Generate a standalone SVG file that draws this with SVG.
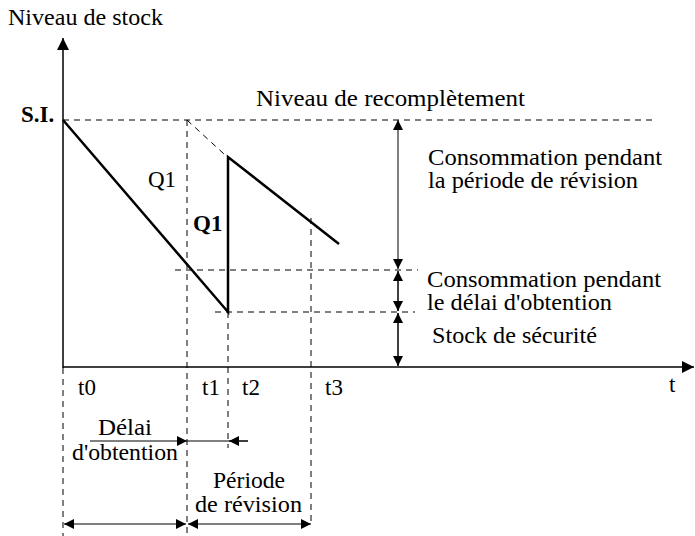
<svg xmlns="http://www.w3.org/2000/svg" width="695" height="536" viewBox="0 0 695 536">
<defs>
<style>
text{font-family:"Liberation Serif","Times New Roman",serif;font-size:23px;fill:#000}
.b{font-weight:bold}
.dash{stroke:#000;stroke-width:1;stroke-dasharray:6,5;fill:none}
.thin{stroke:#000;stroke-width:1;fill:none}
.axis{stroke:#000;stroke-width:1.5;fill:none}
.curve{stroke:#000;stroke-width:2.5;fill:none}
</style>
<marker id="ah" viewBox="0 0 10 10" refX="10" refY="5" markerWidth="12" markerHeight="10" markerUnits="userSpaceOnUse" orient="auto-start-reverse"><path d="M0,0 L10,5 L0,10 z" fill="#000"/></marker>
<marker id="big" viewBox="0 0 10 10" refX="10" refY="5" markerWidth="18" markerHeight="12" markerUnits="userSpaceOnUse" orient="auto"><path d="M0,0 L10,5 L0,10 z" fill="#000"/></marker>
</defs>
<g id="axes">
<line class="axis" x1="63" y1="368" x2="63" y2="38" marker-end="url(#big)"/>
<line class="axis" x1="63" y1="367" x2="694" y2="367" marker-end="url(#big)"/>
</g>
<g id="guides">
<line class="dash" x1="63" y1="120" x2="652" y2="120"/>
<line class="dash" x1="187" y1="120" x2="224" y2="154"/>
<line class="dash" x1="187" y1="120" x2="187" y2="536"/>
<line class="dash" x1="63" y1="368" x2="63" y2="536"/>
<line class="dash" x1="228" y1="312" x2="228" y2="448"/>
<line class="dash" x1="311" y1="218" x2="311" y2="524"/>
<line class="dash" x1="175" y1="270" x2="418" y2="270"/>
<line class="dash" x1="215" y1="312" x2="415" y2="312"/>
</g>
<g id="curve">
<polyline class="curve" points="63,120 228,312 228,157 339,244"/>
</g>
<g id="connectors">
<line class="thin" x1="398" y1="120" x2="398" y2="269" marker-start="url(#ah)" marker-end="url(#ah)"/>
<line class="axis" x1="398" y1="271" x2="398" y2="311" marker-start="url(#ah)" marker-end="url(#ah)"/>
<line class="axis" x1="398" y1="313" x2="398" y2="366" marker-start="url(#ah)" marker-end="url(#ah)"/>
<line class="thin" x1="90" y1="441" x2="187" y2="441" marker-end="url(#ah)"/>
<line class="thin" x1="248" y1="441" x2="187" y2="441"/>
<line class="thin" x1="248" y1="441" x2="229" y2="441" marker-end="url(#ah)"/>
<line class="thin" x1="64" y1="524" x2="186" y2="524" marker-start="url(#ah)" marker-end="url(#ah)"/>
<line class="thin" x1="188" y1="524" x2="311" y2="524" marker-start="url(#ah)" marker-end="url(#ah)"/>
</g>
<g id="labels">
<text x="8" y="25" textLength="155" lengthAdjust="spacingAndGlyphs">Niveau de stock</text>
<text class="b" x="21" y="122">S.I.</text>
<text x="256" y="106" textLength="269" lengthAdjust="spacingAndGlyphs">Niveau de recomplètement</text>
<text x="148" y="187">Q1</text>
<text class="b" x="193" y="231">Q1</text>
<text x="428" y="165" textLength="234" lengthAdjust="spacingAndGlyphs">Consommation pendant</text>
<text x="428" y="188" textLength="210" lengthAdjust="spacingAndGlyphs">la période de révision</text>
<text x="427" y="287" textLength="234" lengthAdjust="spacingAndGlyphs">Consommation pendant</text>
<text x="427" y="310" textLength="185" lengthAdjust="spacingAndGlyphs">le délai d'obtention</text>
<text x="432" y="343" textLength="165" lengthAdjust="spacingAndGlyphs">Stock de sécurité</text>
<text x="669" y="392">t</text>
<text x="78" y="395">t0</text>
<text x="202" y="395">t1</text>
<text x="242" y="395">t2</text>
<text x="325" y="395">t3</text>
<text x="98" y="435" textLength="54" lengthAdjust="spacingAndGlyphs">Délai</text>
<text x="72" y="460" textLength="106" lengthAdjust="spacingAndGlyphs">d'obtention</text>
<text x="213" y="488" textLength="72" lengthAdjust="spacingAndGlyphs">Période</text>
<text x="195" y="512" textLength="107" lengthAdjust="spacingAndGlyphs">de révision</text>
</g>
</svg>
